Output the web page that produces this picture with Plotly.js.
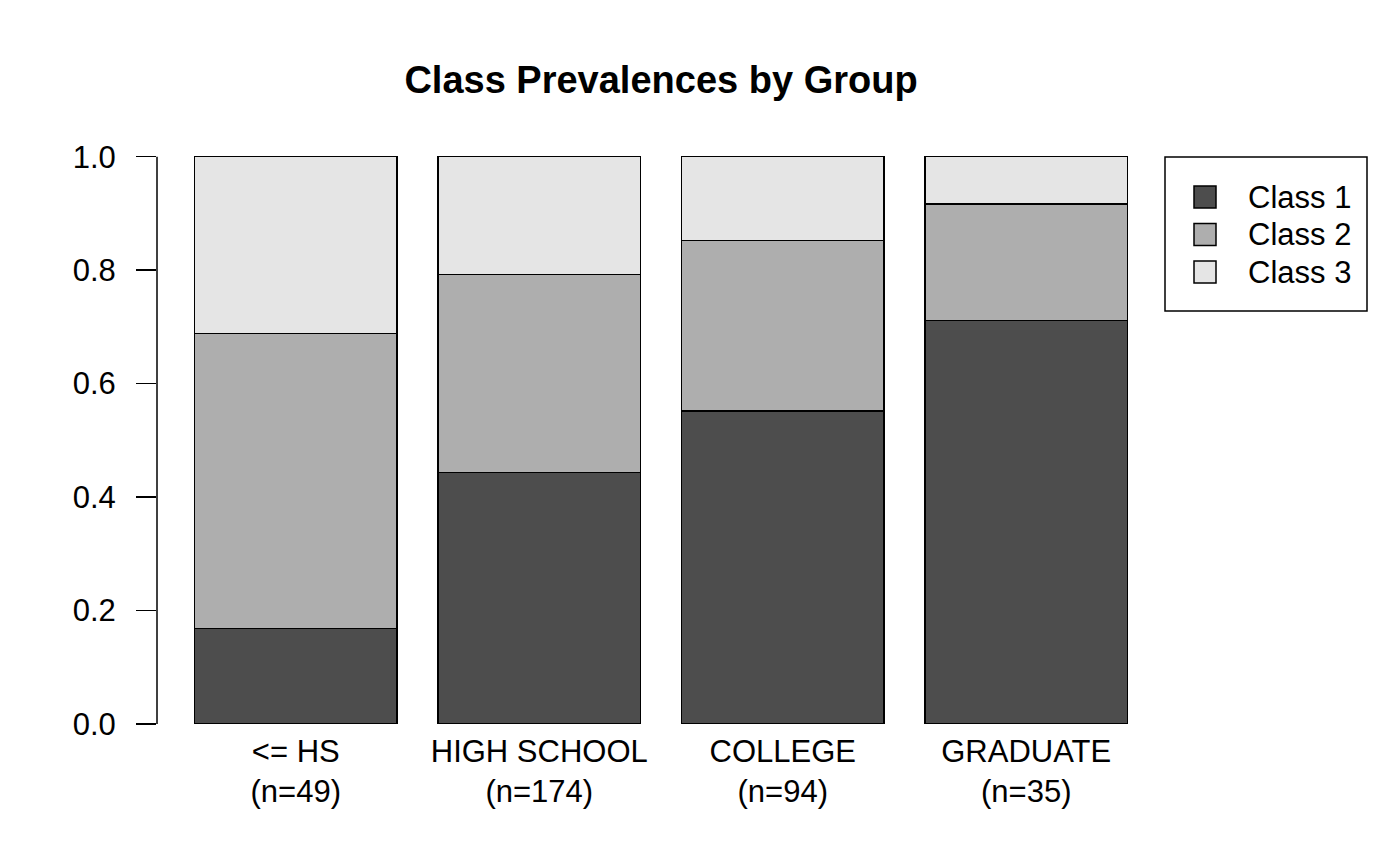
<!DOCTYPE html>
<html>
<head>
<meta charset="utf-8">
<script src="https://cdn.plot.ly/plotly-3.0.1.min.js"></script>
<style>html,body{margin:0;padding:0;background:#fff;}#chart{width:1400px;height:865px;}</style>
</head>
<body>
<div id="chart"></div>
<script>
const groups = ["<= HS", "HIGH SCHOOL", "COLLEGE", "GRADUATE"];
const groupN = [49, 174, 94, 35];
const classNames = ["Class 1", "Class 2", "Class 3"];
const class1 = [0.168, 0.443, 0.552, 0.711];
const class2 = [0.520, 0.349, 0.300, 0.206];
const class3 = [0.312, 0.208, 0.148, 0.083];
const classColors = ["#4d4d4d", "#aeaeae", "#e5e5e5"];

const xpos = groups.map((g, i) => 0.7 + i * 1.2);
const tickText = groups.map((g, i) => g + "<br>(n=" + groupN[i] + ")");
const series = [class1, class2, class3];

const FONT = "Liberation Sans, Arial, Helvetica, sans-serif";
const FS = 31;

// plot-area geometry (pixels) for the hand-drawn R-style legend
const PL = 157, PR = 1165, PT = 134, PB = 724;
const px = v => (v - PL) / (PR - PL);
const py = v => (PB - v) / (PB - PT);

const traces = series.map((vals, k) => ({
  type: "bar",
  name: classNames[k],
  x: xpos,
  y: vals,
  width: 1,
  marker: {color: classColors[k], line: {color: "#000", width: 1.5}},
  hoverinfo: "name+y",
  showlegend: false
}));

const shapes = [
  {type: "line", xref: "paper", yref: "y", x0: 0, x1: 0, y0: 0, y1: 1, line: {color: "#000", width: 1.5}},
  {type: "rect", xref: "paper", yref: "paper", x0: px(1165), x1: px(1367), y0: py(157), y1: py(311),
   line: {color: "#000", width: 1.5}, fillcolor: "#fff"}
];
const annotations = [];
classNames.forEach((name, k) => {
  const cy = 197 + k * 37.5;
  shapes.push({type: "rect", xref: "paper", yref: "paper", x0: px(1194), x1: px(1216), y0: py(cy - 11), y1: py(cy + 11),
               line: {color: "#000", width: 1.5}, fillcolor: classColors[k]});
  annotations.push({xref: "paper", yref: "paper", x: px(1246), y: py(cy), xanchor: "left", yanchor: "middle",
                    text: name, showarrow: false, font: {family: FONT, size: FS, color: "#000"}});
});

const layout = {
  width: 1400, height: 865,
  paper_bgcolor: "#fff", plot_bgcolor: "#fff",
  barmode: "stack",
  margin: {l: PL, r: 1400 - PR, t: PT, b: 865 - PB},
  font: {family: FONT, size: FS, color: "#000"},
  title: {text: "<b>Class Prevalences by Group</b>", font: {family: FONT, size: 38, color: "#000"},
          x: 661/1400, xanchor: "center", xref: "container", y: 1 - 80/865, yanchor: "middle", yref: "container"},
  xaxis: {range: [0.016, 4.984], tickvals: xpos, ticktext: tickText, showgrid: false, zeroline: false,
          showline: false, ticks: "", tickfont: {size: FS}, ticklabelstandoff: 6, fixedrange: true},
  yaxis: {range: [0, 1.04], tickvals: [0, 0.2, 0.4, 0.6, 0.8, 1.0], ticktext: ["0.0", "0.2", "0.4", "0.6", "0.8", "1.0"],
          showgrid: false, zeroline: false, showline: false, ticks: "outside", ticklen: 20, tickwidth: 1.5,
          tickcolor: "#000", tickfont: {size: FS}, ticklabelstandoff: 14, fixedrange: true},
  showlegend: false,
  shapes: shapes,
  annotations: annotations
};

Plotly.newPlot("chart", traces, layout, {displayModeBar: false, staticPlot: true});
</script>
</body>
</html>
